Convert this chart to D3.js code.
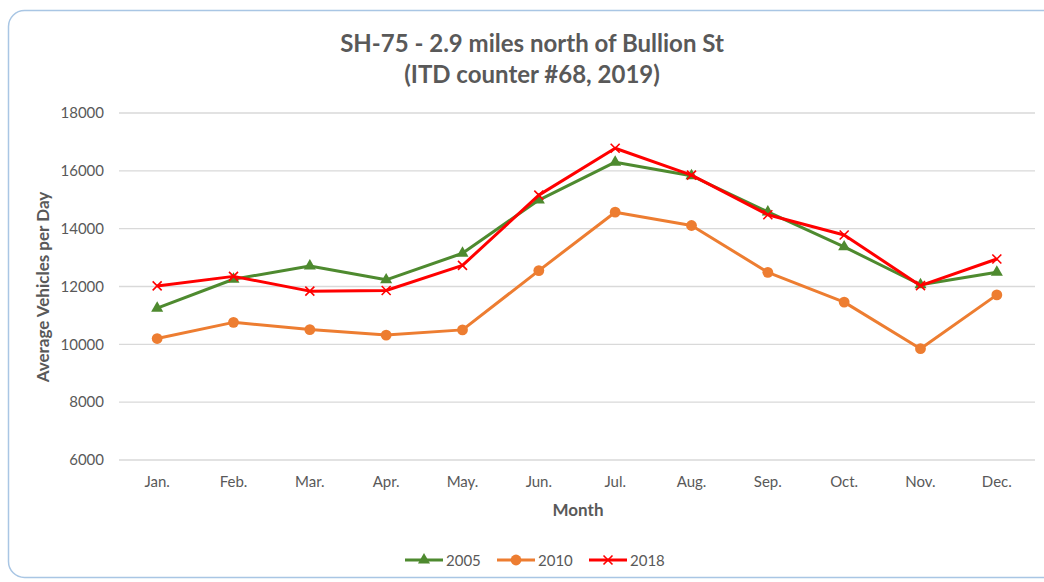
<!DOCTYPE html>
<html><head><meta charset="utf-8">
<script src="https://cdn.jsdelivr.net/npm/d3@7"></script>
<style>body{margin:0;background:#fff;}svg{display:block;font-family:Lato, "Open Sans", sans-serif;}</style>
</head><body><svg id="c" width="1044" height="582"></svg>
<script>
const months = ["Jan.","Feb.","Mar.","Apr.","May.","Jun.","Jul.","Aug.","Sep.","Oct.","Nov.","Dec."];
const v2005 = [11250,12250,12710,12230,13150,14990,16300,15830,14580,13370,12060,12490];
const v2010 = [10200,10760,10510,10320,10500,12550,14570,14110,12490,11460,9850,11710];
const v2018 = [12020,12350,11840,11860,12730,15160,16780,15850,14480,13780,12030,12950];
const yTicks = [6000,8000,10000,12000,14000,16000,18000];
const seriesNames = ["2005","2010","2018"];
const colors = ["#4e8a2f","#ed7d31","#ff0000"];

const svg = d3.select("#c");
svg.append("rect").attr("x",8.5).attr("y",10.5).attr("width",1060).attr("height",567)
  .attr("rx",16).attr("fill","#fff").attr("stroke","#a9c6e4").attr("stroke-width",1.5);

const x = d3.scaleBand().domain(months).range([119,1035]);
const y = d3.scaleLinear().domain([6000,18000]).range([460,113]);

// grid
svg.append("g").selectAll("line").data(yTicks).join("line")
  .attr("x1",119).attr("x2",1035).attr("y1",d=>y(d)).attr("y2",d=>y(d))
  .attr("stroke","#d9d9d9").attr("stroke-width",1.3);

// y axis labels
const ya = svg.append("g").attr("transform","translate(104,0)")
  .call(d3.axisLeft(y).tickValues(yTicks).tickSize(0).tickPadding(0).tickFormat(d3.format("d")));
ya.select(".domain").remove();
ya.selectAll("text").attr("fill","#595959").style("font-size","15px").style("font-family","Lato, sans-serif");

const xa = svg.append("g").attr("transform","translate(0,476)")
  .call(d3.axisBottom(x).tickSize(0).tickPadding(0));
xa.select(".domain").remove();
xa.selectAll("text").attr("fill","#595959").style("font-size","15px").style("font-family","Lato, sans-serif");

// titles
svg.append("text").attr("x",532).attr("y",52).attr("text-anchor","middle")
  .attr("fill","#595959").style("font-size","24px").style("font-weight","bold")
  .text("SH-75 - 2.9 miles north of Bullion St");
svg.append("text").attr("x",532).attr("y",83).attr("text-anchor","middle")
  .attr("fill","#595959").style("font-size","24px").style("font-weight","bold")
  .text("(ITD counter #68, 2019)");
svg.append("text").attr("x",578).attr("y",516).attr("text-anchor","middle")
  .attr("fill","#595959").style("font-size","17px").style("font-weight","bold").text("Month");
svg.append("text").attr("transform","translate(49,287) rotate(-90)").attr("text-anchor","middle")
  .attr("fill","#595959").style("font-size","17px").style("font-weight","bold").text("Average Vehicles per Day");

const data = [v2005,v2010,v2018];
const cx = (d,i)=>x(months[i])+x.bandwidth()/2;
const line = d3.line().x(cx).y(d=>y(d));

function marker(g,k,size){
  if(k===0){
    g.append("path").attr("d",d3.symbol(d3.symbolTriangle,size*7)()).attr("fill",colors[0]);
  } else if(k===1){
    g.append("circle").attr("r",size*0.6).attr("fill",colors[1]);
  } else {
    const s=size*0.5;
    g.append("path").attr("d",`M${-s},${-s}L${s},${s}M${-s},${s}L${s},${-s}`)
      .attr("stroke",colors[2]).attr("stroke-width",1.6).attr("fill","none");
  }
}

data.forEach((arr,k)=>{
  svg.append("path").datum(arr).attr("d",line).attr("fill","none")
    .attr("stroke",colors[k]).attr("stroke-width",3).attr("stroke-linejoin","round");
  arr.forEach((v,i)=>{
    const g = svg.append("g").attr("transform",`translate(${cx(v,i)},${y(v)})`);
    marker(g,k,9);
  });
});

// legend
const legX = [405,497,589];
seriesNames.forEach((n,k)=>{
  const g = svg.append("g").attr("transform",`translate(${legX[k]},560)`);
  g.append("line").attr("x1",0).attr("x2",38).attr("stroke",colors[k]).attr("stroke-width",3);
  const m = g.append("g").attr("transform","translate(19,0)");
  marker(m,k,9);
  g.append("text").attr("x",41).attr("y",5.5).attr("fill","#595959").style("font-size","15px").text(n);
});
</script></body></html>
